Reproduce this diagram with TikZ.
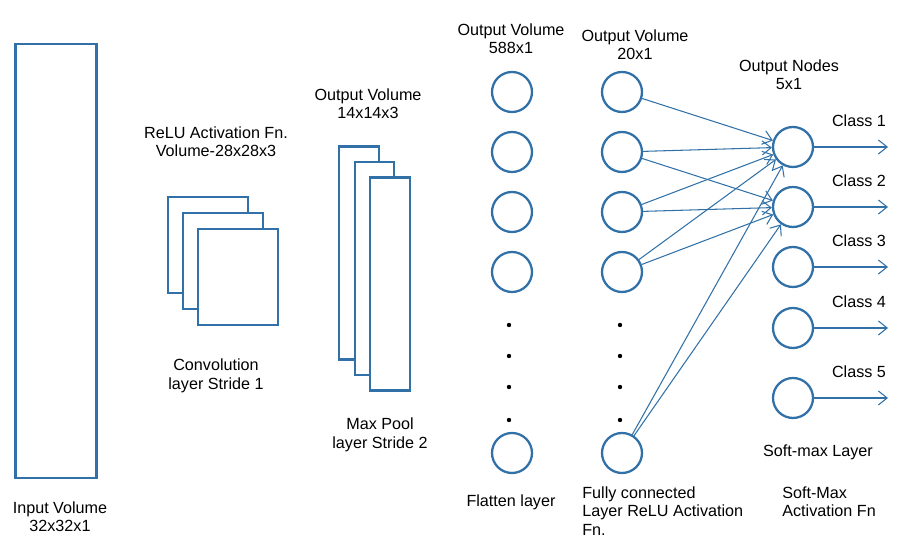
\documentclass[tikz,border=0pt]{standalone}
\usepackage{fontspec}
\setmainfont{Liberation Sans}
\usetikzlibrary{arrows.meta,
                positioning}
\definecolor{netblue}{RGB}{50,113,168}

\begin{document}
\begin{tikzpicture}[x=0.02cm, y=-0.02cm,
every edge/.style = {draw, -{Straight Barb[length=5pt,width=8pt]}, line width=0.6pt, netblue},
        box/.style = {draw=netblue, line width=1.3pt, fill=white, inner sep=0pt},
       conv/.style = {box, minimum width=1.6cm, minimum height=1.92cm},
       pool/.style = {box, minimum width=0.79cm, minimum height=4.26cm},
     neuron/.style = {circle, draw=netblue, line width=1.3pt, minimum size=0.8cm, inner sep=0pt},
        lbl/.style = {align=center, font=\fontsize{9.2}{10.5}\selectfont, inner sep=0pt},
       dotn/.style = {circle, fill=black, minimum size=2.5pt, inner sep=0pt}
                    ]
\useasboundingbox (0,0) rectangle (904,553);

% input
\node[box, minimum width=1.62cm, minimum height=8.68cm] (in) at (56,261) {};
\node[lbl] (inl) at (60,517) {Input Volume\\32x32x1};

% convolution and pooling
\foreach \i in {0,1,2}
  \node[conv] (c\i) at (208+15*\i, 245+16*\i) {};
\node[lbl] (cl) at (216,142) {ReLU Activation Fn.\\Volume-28x28x3};
\node[lbl] (cb) at (216,376) {Convolution\\layer Stride 1};

\foreach \i in {0,1,2}
  \node[pool] (p\i) at (359+15.5*\i, 253+15.5*\i) {};
\node[lbl] (pl) at (368,104) {Output Volume\\14x14x3};
\node[lbl] (pb) at (380,435) {Max Pool\\layer Stride 2};

% flatten and fully connected
\foreach \y [count=\k] in {92,152,212,272,453}
  {
  \node[neuron] (f\k) at (512,\y) {};
  \node[neuron] (h\k) at (622,\y) {};
  }
\foreach \y in {325,356,387,420}
  {
  \node[dotn] at (509,\y) {};
  \node[dotn] at (620,\y) {};
  }
\node[lbl] (fl) at (511,39) {Output Volume\\588x1};
\node[lbl] (fb) at (511,502) {Flatten layer};
\node[lbl] (hl) at (635,45) {Output Volume\\20x1};
\node[lbl, align=left, anchor=west] (hb) at (582,511) {Fully connected\\Layer ReLU Activation\\Fn.};

% output
\foreach \y [count=\k] in {147,207,267,328,398}
  {
  \node[neuron] (o\k) at (793,\y) {};
  \coordinate (e\k) at (888,\y);
  \node[lbl] (cls\k) at (859,\y-26) {Class \k};
  \draw (o\k) edge (e\k);
  }
\node[lbl] (ol) at (789,75) {Output Nodes\\5x1};
\node[lbl] (ob) at (818,452) {Soft-max Layer};
\node[lbl, align=left, anchor=west] (sb) at (782,502) {Soft-Max\\Activation Fn};

\draw   (h1) edge (o1)
        (h2) edge (o1)  (h2) edge (o2)
        (h3) edge (o1)  (h3) edge (o2)
        (h4) edge (o1)  (h4) edge (o2)
        (h5) edge (o1)  (h5) edge (o2);
\end{tikzpicture}
\end{document}
